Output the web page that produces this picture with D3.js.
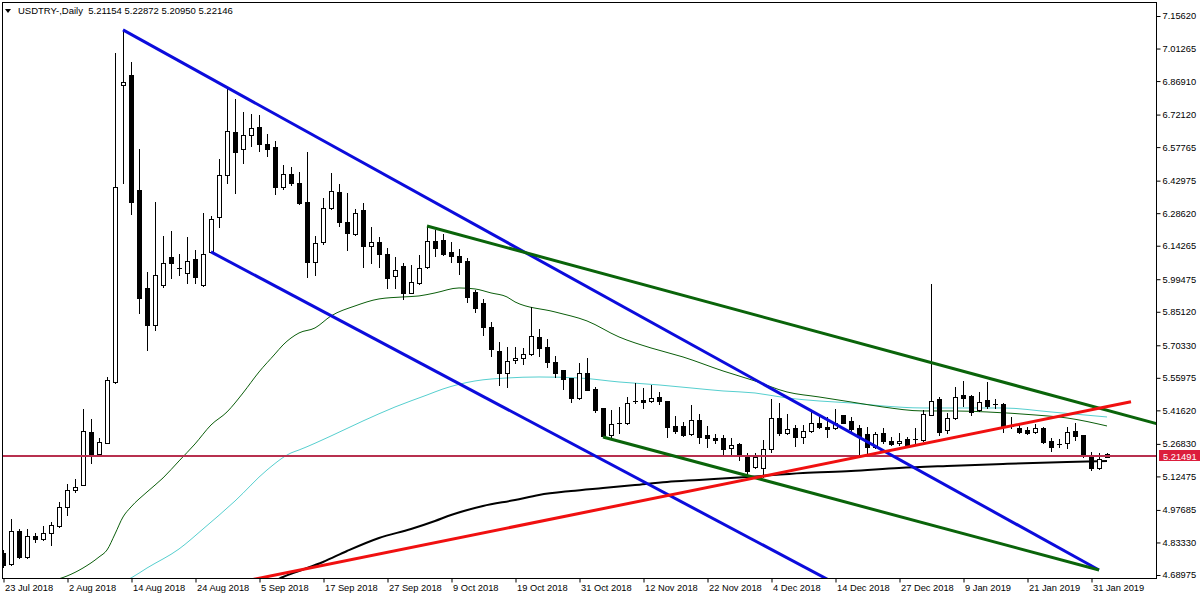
<!DOCTYPE html>
<html><head><meta charset="utf-8">
<script src="https://cdn.jsdelivr.net/npm/d3@7"></script>
<style>
body{margin:0;background:#fff;}
svg{display:block;}
text{font-family:"Liberation Sans",Arial,sans-serif;}
</style>
</head><body>
<svg id="c" width="1200" height="600"></svg>
<script>
// ---------- DATA ----------
const symbolTitle = "USDTRY-,Daily";
const lastBar = [5.21154, 5.22872, 5.20950, 5.22146];
const dateLabels = ["23 Jul 2018","2 Aug 2018","14 Aug 2018","24 Aug 2018","5 Sep 2018","17 Sep 2018","27 Sep 2018","9 Oct 2018","19 Oct 2018","31 Oct 2018","12 Nov 2018","22 Nov 2018","4 Dec 2018","14 Dec 2018","27 Dec 2018","9 Jan 2019","21 Jan 2019","31 Jan 2019"];
const priceTicks = [7.15620,7.01265,6.86910,6.72120,6.57765,6.42975,6.28620,6.14265,5.99475,5.85120,5.70330,5.55975,5.41620,5.26830,5.12475,4.97685,4.83330,4.68975];
const opens = [4.787,4.738,4.884,4.769,4.862,4.849,4.875,4.906,4.990,5.065,5.087,5.321,5.224,5.272,5.541,6.852,6.896,6.389,5.956,5.793,5.970,6.093,6.045,6.023,6.084,5.970,6.115,6.270,6.455,6.645,6.570,6.632,6.667,6.592,6.579,6.402,6.459,6.420,6.336,6.071,6.159,6.309,6.380,6.248,6.195,6.301,6.142,6.159,6.106,6.009,6.054,5.934,5.978,6.049,6.164,6.168,6.115,6.098,6.075,5.939,5.890,5.784,5.678,5.581,5.639,5.647,5.665,5.740,5.696,5.630,5.594,5.559,5.471,5.581,5.511,5.427,5.308,5.361,5.361,5.458,5.462,5.458,5.475,5.458,5.347,5.347,5.312,5.374,5.308,5.294,5.294,5.250,5.268,5.211,5.166,5.162,5.246,5.383,5.316,5.339,5.299,5.325,5.361,5.343,5.339,5.396,5.369,5.339,5.312,5.255,5.316,5.281,5.272,5.290,5.290,5.286,5.396,5.467,5.330,5.383,5.484,5.480,5.418,5.462,5.444,5.444,5.347,5.339,5.330,5.321,5.339,5.281,5.268,5.272,5.325,5.308,5.219,5.162,5.21154];
const highs = [4.800,4.937,4.893,4.893,4.875,4.906,4.924,5.012,5.091,5.114,5.422,5.378,5.294,5.564,6.993,7.095,6.954,6.570,6.027,6.336,6.186,6.208,6.106,6.181,6.124,6.287,6.274,6.526,6.839,6.790,6.733,6.724,6.720,6.636,6.605,6.499,6.490,6.468,6.556,6.186,6.354,6.464,6.415,6.376,6.305,6.331,6.226,6.181,6.133,6.093,6.067,6.058,6.102,6.230,6.212,6.195,6.159,6.128,6.089,5.948,5.908,5.806,5.718,5.696,5.696,5.692,5.872,5.775,5.731,5.656,5.594,5.559,5.625,5.647,5.519,5.427,5.418,5.431,5.475,5.537,5.515,5.528,5.497,5.458,5.391,5.365,5.440,5.400,5.347,5.312,5.308,5.294,5.272,5.228,5.228,5.285,5.466,5.449,5.400,5.352,5.352,5.409,5.387,5.387,5.422,5.396,5.387,5.352,5.343,5.321,5.339,5.299,5.316,5.299,5.339,5.418,5.974,5.475,5.405,5.519,5.546,5.484,5.497,5.542,5.466,5.449,5.387,5.361,5.343,5.356,5.343,5.294,5.290,5.343,5.361,5.308,5.233,5.228,5.22872];
const lows = [4.725,4.734,4.765,4.765,4.835,4.844,4.822,4.902,4.954,5.056,5.087,5.184,5.219,5.272,5.537,6.420,6.283,5.846,5.683,5.771,5.961,6.000,6.014,5.978,5.978,5.965,6.115,6.226,6.420,6.376,6.508,6.583,6.561,6.539,6.371,6.393,6.411,6.327,6.005,6.014,6.150,6.305,6.230,6.124,6.190,6.049,6.067,6.049,5.956,5.956,5.908,5.934,5.974,6.045,6.097,6.102,6.071,6.018,5.895,5.850,5.749,5.656,5.528,5.519,5.625,5.621,5.661,5.656,5.608,5.564,5.511,5.453,5.467,5.506,5.409,5.299,5.299,5.316,5.356,5.449,5.427,5.453,5.444,5.299,5.316,5.303,5.308,5.272,5.255,5.272,5.219,5.219,5.197,5.123,5.162,5.123,5.233,5.308,5.312,5.259,5.272,5.321,5.339,5.299,5.334,5.361,5.316,5.224,5.224,5.250,5.272,5.263,5.263,5.259,5.272,5.281,5.396,5.308,5.316,5.378,5.436,5.396,5.414,5.427,5.427,5.321,5.339,5.316,5.312,5.316,5.272,5.237,5.255,5.250,5.286,5.211,5.153,5.158,5.20950];
const closes = [4.734,4.884,4.769,4.862,4.849,4.875,4.911,4.990,5.065,5.078,5.325,5.224,5.277,5.550,6.402,6.866,6.336,5.912,5.793,6.014,6.067,6.067,6.045,6.075,6.005,6.106,6.261,6.455,6.649,6.556,6.632,6.662,6.592,6.570,6.402,6.459,6.420,6.331,6.071,6.155,6.309,6.384,6.248,6.199,6.287,6.142,6.159,6.106,6.000,6.036,5.934,5.983,6.045,6.164,6.133,6.106,6.098,6.071,5.917,5.868,5.784,5.687,5.581,5.634,5.647,5.665,5.745,5.692,5.630,5.581,5.555,5.471,5.581,5.506,5.418,5.303,5.356,5.361,5.449,5.458,5.453,5.471,5.458,5.343,5.325,5.308,5.374,5.299,5.294,5.285,5.246,5.263,5.219,5.149,5.211,5.246,5.383,5.316,5.334,5.299,5.325,5.361,5.343,5.334,5.361,5.361,5.334,5.299,5.255,5.312,5.281,5.268,5.281,5.263,5.290,5.400,5.458,5.321,5.383,5.475,5.471,5.409,5.453,5.436,5.444,5.343,5.347,5.321,5.316,5.339,5.277,5.255,5.268,5.321,5.303,5.219,5.162,5.202,5.22146];

// moving averages, read at selected bars: [bar index, value]
const maGreen = [[6,4.6633],[8,4.6853],[10,4.7206],[12,4.7692],[13,4.8001],[14,4.8707],[15,4.9457],[16,4.9899],[18,5.0561],[20,5.1179],[22,5.1929],[24,5.2679],[26,5.3517],[28,5.4091],[30,5.4929],[32,5.5856],[34,5.6650],[35,5.7048],[37,5.7577],[39,5.7798],[41,5.8327],[44,5.8769],[47,5.9078],[50,5.9166],[52,5.9210],[54,5.9343],[57,5.9563],[59,5.9519],[61,5.9343],[63,5.9166],[64,5.8946],[69,5.8504],[73,5.8107],[77,5.7401],[81,5.6915],[85,5.6518],[90,5.5900],[94,5.5459],[98,5.4973],[102,5.4753],[106,5.4532],[110,5.4311],[115,5.4135],[119,5.4135],[123,5.4091],[129,5.3958],[133,5.3826],[138,5.3473]];
const maCyan = [[15,4.6589],[16,4.6765],[18,4.7206],[22,4.8045],[25,4.8927],[29,5.0163],[33,5.1531],[36,5.2282],[37,5.2414],[41,5.3032],[45,5.3694],[49,5.4311],[53,5.4840],[55,5.5106],[59,5.5459],[63,5.5591],[67,5.5635],[72,5.5591],[77,5.5415],[82,5.5283],[86,5.5150],[90,5.5018],[94,5.4929],[98,5.4708],[102,5.4576],[106,5.4488],[110,5.4356],[115,5.4267],[120,5.4267],[125,5.4267],[131,5.4091],[138,5.3870]];
const maBlack = [[33,4.6457],[35,4.6810],[37,4.7075],[40,4.7472],[43,4.7957],[47,4.8531],[51,4.8927],[54,4.9280],[56,4.9546],[60,4.9943],[64,5.0207],[67,5.0428],[71,5.0604],[75,5.0737],[79,5.0869],[83,5.1002],[87,5.1090],[93,5.1223],[100,5.1400],[106,5.1488],[112,5.1620],[118,5.1709],[125,5.1797],[133,5.1885],[138,5.1929]];

// trend lines: two anchor points each [bar index, price]
const blueUpper = [[15,7.0949],[137,4.7118]];
const blueLower = [[26,6.1152],[110,4.5406]];
const greenUpper = [[53,6.2299],[150,5.3019]];
const greenLower = [[75,5.2988],[137,4.7118]];
const redTrend = [[31,4.6681],[141,5.4545]];
const hLevel = 5.21491;

// ---------- DRAW ----------
const svg = d3.select("#c");
const L = 2, R = 1156, T = 2, B = 578;
const x = d3.scaleLinear().domain([0, 138]).range([3, 1107]);
const y = d3.scaleLinear().domain([4.68975, 7.15620]).range([575, 16]);
const FONT = '"Liberation Sans",Arial,sans-serif';

svg.append("defs").append("clipPath").attr("id","plot")
  .append("rect").attr("x",L+1).attr("y",T+1).attr("width",R-L-1).attr("height",B-T-1);

const plot = svg.append("g").attr("clip-path","url(#plot)");

const lineGen = d3.line().x(d=>x(d[0])).y(d=>y(d[1])).curve(d3.curveMonotoneX);
plot.append("path").attr("d",lineGen(maCyan)).attr("fill","none").attr("stroke","#56cfcf").attr("stroke-width",1);
plot.append("path").attr("d",lineGen(maGreen)).attr("fill","none").attr("stroke","#0b5e0b").attr("stroke-width",1);
plot.append("path").attr("d",lineGen(maBlack)).attr("fill","none").attr("stroke","#000").attr("stroke-width",2);

// candles
const bars = d3.range(opens.length).map(i=>({i,o:opens[i],h:highs[i],l:lows[i],c:closes[i]}));
const cg = plot.append("g");
bars.forEach(b=>{
  const cx = Math.round(x(b.i));
  const yh = Math.round(y(b.h)), yl = Math.round(y(b.l));
  const yt = Math.round(y(Math.max(b.o,b.c))), yb = Math.round(y(Math.min(b.o,b.c)));
  cg.append("line").attr("x1",cx+0.5).attr("x2",cx+0.5).attr("y1",yh).attr("y2",yl+1).attr("stroke","#000").attr("stroke-width",1);
  if (yb - yt < 1) {
    cg.append("line").attr("x1",cx-2).attr("x2",cx+3).attr("y1",yt+0.5).attr("y2",yt+0.5).attr("stroke","#000");
  } else if (b.c >= b.o) {
    cg.append("rect").attr("x",cx-1.5).attr("y",yt+0.5).attr("width",4).attr("height",yb-yt)
      .attr("fill","#fff").attr("stroke","#000").attr("stroke-width",1);
  } else {
    cg.append("rect").attr("x",cx-2).attr("y",yt).attr("width",5).attr("height",yb-yt+1).attr("fill","#000");
  }
});

// horizontal level
plot.append("line").attr("x1",L).attr("x2",R).attr("y1",Math.round(y(hLevel))).attr("y2",Math.round(y(hLevel)))
  .attr("stroke","#b8304f").attr("stroke-width",2);

// trend lines
function seg(p, color){
  const [a,b] = p;
  plot.append("line").attr("x1",x(a[0])).attr("y1",y(a[1])).attr("x2",x(b[0])).attr("y2",y(b[1]))
    .attr("stroke",color).attr("stroke-width",3).attr("stroke-linecap","butt");
}
seg(blueUpper,"#0c0cdc");
seg(blueLower,"#0c0cdc");
seg(greenUpper,"#0a640a");
seg(greenLower,"#0a640a");
seg(redTrend,"#f01010");

// frame
svg.append("rect").attr("x",L+0.5).attr("y",T+0.5).attr("width",R-L).attr("height",B-T)
  .attr("fill","none").attr("stroke","#000").attr("stroke-width",1);

// axes
const axisFont = "9.3px";
const yAxis = d3.axisRight(y).tickValues(priceTicks).tickSize(4).tickPadding(2).tickFormat(d3.format(".5f"));
const gy = svg.append("g").attr("transform",`translate(${R+0.5},0)`).call(yAxis);
gy.select(".domain").remove();
gy.selectAll("text").attr("font-size",axisFont).attr("fill","#000").style("font-family",FONT);
gy.selectAll("line").attr("stroke","#000");

const xAxis = d3.axisBottom(x).tickValues(d3.range(0, 137, 8)).tickSize(4).tickFormat((d,i)=>dateLabels[i]);
const gx = svg.append("g").attr("transform",`translate(0.5,${B+0.5})`).call(xAxis);
gx.select(".domain").remove();
gx.selectAll("text").attr("font-size",axisFont).attr("fill","#000").attr("text-anchor","start").attr("x",1).attr("y",6)
  .style("font-family",FONT);
gx.selectAll("line").attr("stroke","#000");

// price label box
const ly = Math.round(y(hLevel));
svg.append("rect").attr("x",R+3).attr("y",ly-6).attr("width",44).attr("height",11).attr("fill","#dc1e3c");
svg.append("text").attr("x",R+7).attr("y",ly+3.5).attr("font-size",axisFont).attr("fill","#fff").text(d3.format(".5f")(hLevel));

// title
svg.append("path").attr("d","M5,9 L11,9 L8,13 Z").attr("fill","#000");
svg.append("text").attr("x",18).attr("y",14).attr("font-size","9.5px").attr("fill","#000")
  .style("white-space","pre")
  .text(symbolTitle + "  " + lastBar.map(d3.format(".5f")).join(" "));
</script>
</body></html>
